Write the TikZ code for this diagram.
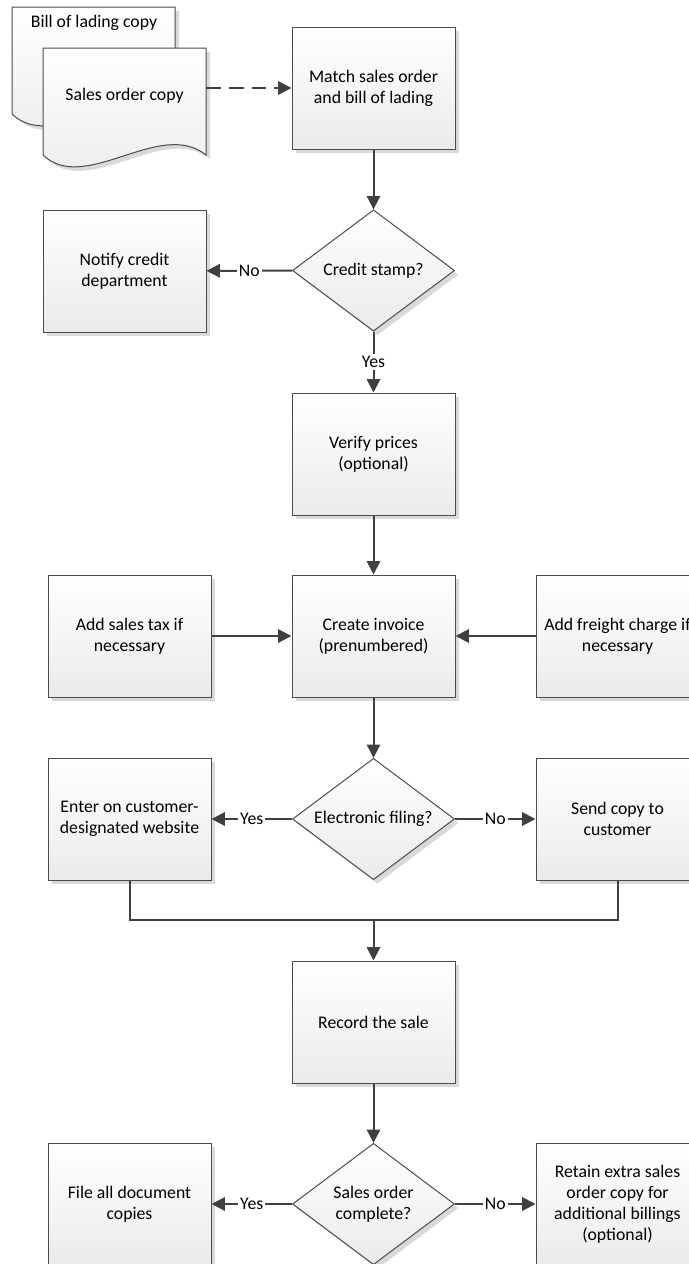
\documentclass[tikz,border=0pt]{standalone}
\usepackage{fontspec}
\setmainfont{Carlito}
\usetikzlibrary{arrows.meta,shapes.geometric,shadows}

\begin{document}
\begin{tikzpicture}[x=0.75pt, y=-0.75pt,
  every node/.style={font=\fontsize{13.3pt}{15.75pt}\selectfont},
  boxshadow/.style={drop shadow={shadow xshift=3pt, shadow yshift=-3pt, fill=black!15, opacity=1}},
  procbox/.style={rectangle, draw=black!70, line width=0.75pt, top color=white, bottom color=black!8,
    minimum width=122.25pt, minimum height=91.5pt, align=center, boxshadow},
  decision/.style={diamond, aspect=1.33, draw=black!70, line width=0.75pt, top color=white, bottom color=black!8,
    minimum width=121.5pt, minimum height=91pt, inner sep=0pt, align=center, boxshadow},
  docshape/.style={draw=black!70, line width=0.75pt, top color=white, bottom color=black!8, boxshadow},
  doctext/.style={align=center, inner sep=0pt},
  flow/.style={draw=black!75, line width=1.5pt, -{Triangle[length=10pt,width=10pt]}},
  dashflow/.style={flow, dash pattern=on 11pt off 6pt},
  joinline/.style={draw=black!75, line width=1.5pt},
  lbl/.style={fill=white, inner sep=1.5pt}]

\useasboundingbox (0,0) rectangle (689,1264);

% source documents
\path[docshape] (12,7) -- (175,7) -- (175,114) .. controls (129,77) and (54,154) .. (12,114) -- cycle;
\node[doctext] (ladingdoc) at (94,23) {Bill of lading copy};
\path[docshape] (43,48) -- (206,48) -- (206,155) .. controls (160,118) and (85,195) .. (43,155) -- cycle;
\node[doctext, minimum width=122.25pt] (salesdoc) at (124.5,96) {Sales order copy};

% main column
\node[procbox] (match) at (373.5,88) {Match sales order\\and bill of lading};
\node[decision] (credit) at (373.5,270.5) {Credit stamp?};
\node[procbox] (notify) at (124.5,271) {Notify credit\\department};
\node[procbox] (verify) at (373.5,454) {Verify prices\\(optional)};
\node[procbox] (invoice) at (373.5,636) {Create invoice\\(prenumbered)};
\node[procbox] (salestax) at (129.5,636) {Add sales tax if\\necessary};
\node[procbox] (freight) at (617.5,636) {Add freight charge if\\necessary};
\node[decision] (efiling) at (373.5,819) {Electronic filing?};
\node[procbox] (website) at (129.5,819) {Enter on customer-\\designated website};
\node[procbox] (sendcopy) at (617.5,819) {Send copy to\\customer};
\coordinate (join) at (373.5,920);
\node[procbox] (record) at (373.5,1022) {Record the sale};
\node[decision] (complete) at (373.5,1204) {Sales order\\complete?};
\node[procbox] (fileall) at (129.5,1204) {File all document\\copies};
\node[procbox] (retain) at (617.5,1204) {Retain extra sales\\order copy for\\additional billings\\(optional)};

% connectors
\draw[dashflow] ([yshift=6pt]salesdoc.east) -- (match.west);
\draw[flow] (match) -- (credit);
\draw[flow] (credit) -- node[lbl] {No} (notify);
\draw[flow] (credit) -- node[lbl] {Yes} (verify);
\draw[flow] (verify) -- (invoice);
\draw[flow] (salestax) -- (invoice);
\draw[flow] (freight) -- (invoice);
\draw[flow] (invoice) -- (efiling);
\draw[flow] (efiling) -- node[lbl] {Yes} (website);
\draw[flow] (efiling) -- node[lbl] {No} (sendcopy);
\draw[joinline] (website.south) |- (join) -| (sendcopy.south);
\draw[flow] (join) -- (record);
\draw[flow] (record) -- (complete);
\draw[flow] (complete) -- node[lbl] {Yes} (fileall);
\draw[flow] (complete) -- node[lbl] {No} (retain);

\end{tikzpicture}
\end{document}
